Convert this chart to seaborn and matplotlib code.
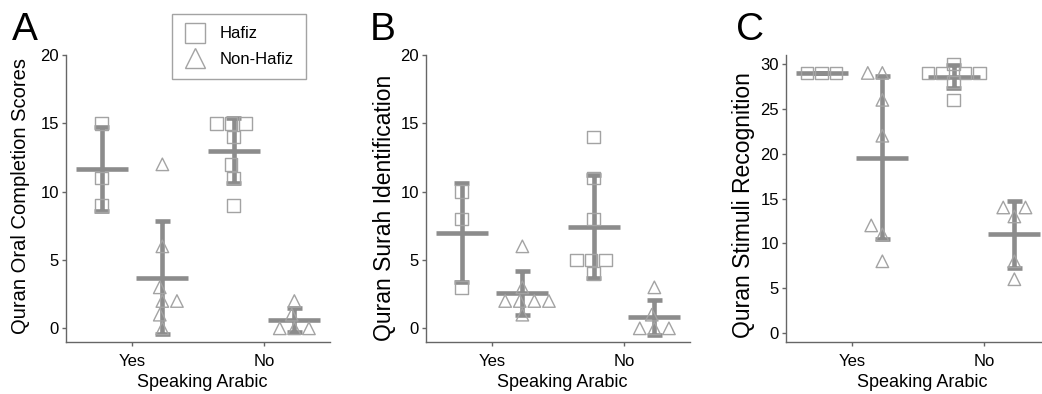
import numpy as np
import pandas as pd
import matplotlib
matplotlib.use("Agg")
import matplotlib.pyplot as plt
import seaborn as sns
from matplotlib.lines import Line2D

# ---------------- data ----------------
categories = ["Yes", "No"]
groups = ["Hafiz", "Non-Hafiz"]

# Panel A: Quran Oral Completion Scores
a_hafiz_yes = [15, 11, 9]
a_non_yes = [12, 6, 3, 2, 2, 1, 0]
a_hafiz_no = [15, 15, 15, 14, 12, 11, 9]
a_non_no = [2, 1, 0, 0, 0]

# Panel B: Quran Surah Identification
b_hafiz_yes = [10, 8, 3]
b_non_yes = [6, 3, 2, 2, 2, 2, 1]
b_hafiz_no = [14, 11, 8, 5, 5, 5, 4]
b_non_no = [3, 1, 0, 0, 0]

# Panel C: Quran Stimuli Recognition
c_hafiz_yes = [29, 29, 29]
c_non_yes = [29, 29, 26, 22, 12, 11, 8]
c_hafiz_no = [30, 29, 29, 29, 29, 28, 26]
c_non_no = [14, 14, 13, 8, 6]

panel_letters = ["A", "B", "C"]
ylabels = ["Quran Oral Completion Scores", "Quran Surah Identification",
           "Quran Stimuli Recognition"]
yticks_list = [[0, 5, 10, 15, 20], [0, 5, 10, 15, 20], [0, 5, 10, 15, 20, 25, 30]]
ylims = [(-1, 20), (-1, 20), (-1, 31)]
xlabel = "Speaking Arabic"

panel_values = [
    {("Yes", "Hafiz"): a_hafiz_yes, ("Yes", "Non-Hafiz"): a_non_yes,
     ("No", "Hafiz"): a_hafiz_no, ("No", "Non-Hafiz"): a_non_no},
    {("Yes", "Hafiz"): b_hafiz_yes, ("Yes", "Non-Hafiz"): b_non_yes,
     ("No", "Hafiz"): b_hafiz_no, ("No", "Non-Hafiz"): b_non_no},
    {("Yes", "Hafiz"): c_hafiz_yes, ("Yes", "Non-Hafiz"): c_non_yes,
     ("No", "Hafiz"): c_hafiz_no, ("No", "Non-Hafiz"): c_non_no},
]

# ---------------- style ----------------
OFFSET = {"Hafiz": -0.23, "Non-Hafiz": 0.23}
MARKERS = {"Hafiz": "s", "Non-Hafiz": "^"}
MARKER_GRAY = "#a3a3a3"
BAR_GRAY = "#8c8c8c"
AXIS_GRAY = "#666666"

sns.set_style("ticks")
plt.rcParams["font.family"] = ["Liberation Sans", "DejaVu Sans"]
plt.rcParams["font.size"] = 12
plt.rcParams["text.color"] = "black"
plt.rcParams["axes.labelcolor"] = "black"

W, H = 1042, 394
fig = plt.figure(figsize=(W / 100, H / 100), dpi=100)

ax_lefts = [66, 426, 786]
ax_w = 264
ax_top, ax_bottom = 55, 342
letter_x = [12, 370, 736]
ylabel_sizes = [14.5, 16.5, 16.5]
ylabel_centers = [(20.5, 195.5), (384, 208), (743.5, 205)]


def build_frame(values):
    rows = []
    for ci, cat in enumerate(categories):
        for g in groups:
            for v in values[(cat, g)]:
                rows.append({"cat": cat, "group": g, "pos": ci + OFFSET[g], "value": v})
    return pd.DataFrame(rows)


for i in range(3):
    left = ax_lefts[i]
    width = min(ax_w, W - left)
    ax_h = ax_bottom - ax_top
    ax = fig.add_axes([left / W, 1 - ax_bottom / H, width / W, ax_h / H])
    df = build_frame(panel_values[i])

    for g in groups:
        sub = df[df["group"] == g]
        sns.swarmplot(data=sub, x="pos", y="value", native_scale=True, orient="x",
                      marker=MARKERS[g], size=9, color=MARKER_GRAY, ax=ax)
    for coll in ax.collections:
        coll.set_facecolor("none")
        coll.set_edgecolor(MARKER_GRAY)
        coll.set_linewidth(1.0)

    sns.pointplot(data=df, x="pos", y="value", native_scale=True, orient="x",
                  errorbar="sd", capsize=0.25, color=BAR_GRAY,
                  linestyle="none", marker="_", markersize=37, markeredgewidth=3.3,
                  err_kws={"linewidth": 3.3, "color": BAR_GRAY, "solid_capstyle": "butt"},
                  ax=ax)

    # axes cosmetics
    xr = -0.5 + width / 132.0
    ax.set_xlim(-0.5, xr)
    ax.set_ylim(*ylims[i])
    ax.set_xticks([0, 1])
    ax.set_xticklabels(categories)
    ax.set_yticks(yticks_list[i])
    ax.set_xlabel(xlabel, fontsize=13, color="black")
    ax.xaxis.set_label_coords((132 + 4) / width, 1 - (382.5 - ax_top) / ax_h)
    ax.xaxis.label.set_va("center")
    ax.set_ylabel(ylabels[i], fontsize=ylabel_sizes[i], color="black")
    cx, cy = ylabel_centers[i]
    ax.yaxis.set_label_coords((cx - left) / width, 1 - (cy - ax_top) / ax_h)
    ax.yaxis.label.set_va("center")
    sns.despine(ax=ax)
    for s in ["left", "bottom"]:
        ax.spines[s].set_color(AXIS_GRAY)
        ax.spines[s].set_linewidth(1.0)
    ax.tick_params(axis="both", direction="out", length=3, width=1,
                   color=AXIS_GRAY, labelsize=12, labelcolor="black", pad=2)
    ax.tick_params(axis="x", pad=6)

    fig.text(letter_x[i] / W, 1 - 40 / H, panel_letters[i], fontsize=28,
             ha="left", va="baseline", color="black")

# legend
handles = [Line2D([], [], linestyle="none", marker=MARKERS[g], markersize=15,
                  markerfacecolor="none", markeredgecolor=MARKER_GRAY,
                  markeredgewidth=1.0) for g in groups]
leg = fig.legend(handles, groups, loc="upper left",
                 bbox_to_anchor=(172 / W, 1 - 14 / H), borderaxespad=0,
                 frameon=True, fancybox=False, fontsize=12, handletextpad=0.8,
                 borderpad=0.75, labelspacing=0.6, handlelength=1.3)
leg.get_frame().set_edgecolor(MARKER_GRAY)
leg.get_frame().set_linewidth(1.0)
leg.get_frame().set_alpha(1)
for t in leg.get_texts():
    t.set_color("black")

fig.savefig("out.png", dpi=100)
